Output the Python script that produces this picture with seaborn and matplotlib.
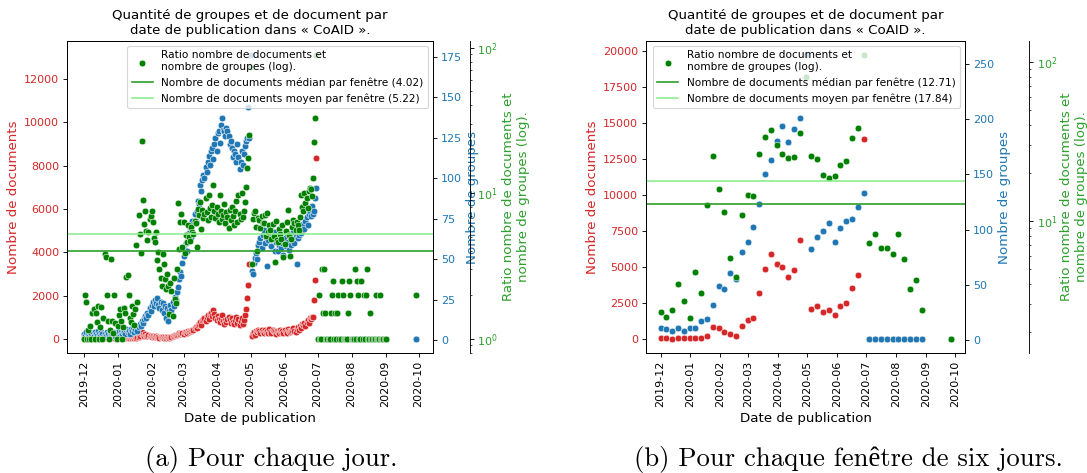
import matplotlib
matplotlib.use("Agg")
import matplotlib.pyplot as plt
import matplotlib.dates as mdates
import pandas as pd
import seaborn as sns

# ---------------- (a) one point per day ----------------
dates_a = pd.date_range("2019-12-01", "2020-09-01").append(pd.DatetimeIndex(["2020-09-29"]))

docs_a = [
    20, 15, 30, 10, 25, 40, 20, 15, 35, 25,
    30, 20, 45, 25, 35, 20, 50, 30, 40, 25,
    35, 55, 30, 20, 45, 60, 35, 25, 50, 40,
    30, 55, 45, 25, 60, 40, 35, 50, 70, 45,
    60, 40, 55, 75, 50, 65, 45, 80, 60, 90,
    70, 110, 250, 330, 180, 150, 220, 140, 120, 160,
    130, 110, 90, 120, 100, 80, 110, 70, 90, 60,
    80, 70, 100, 60, 90, 50, 70, 80, 60, 90,
    70, 110, 130, 160, 200, 180, 230, 260, 210, 250,
    280, 240, 300, 330, 270, 350, 310, 380, 340, 420,
    400, 480, 550, 520, 620, 700, 780, 650, 850, 900,
    950, 820, 1000, 1080, 900, 1150, 1200, 1050, 1310, 1150,
    980, 850, 1050, 900, 780, 950, 1100, 820, 700, 880,
    760, 900, 1000, 850, 720, 950, 800, 680, 880, 1020,
    750, 900, 650, 820, 980, 700, 850, 1100, 1380, 1880,
    2500, 3470, 13100, 150, 250, 320, 200, 380, 300, 420,
    350, 280, 400, 330, 260, 420, 300, 380, 250, 450,
    320, 280, 400, 350, 300, 240, 380, 330, 270, 420,
    300, 360, 250, 400, 330, 280, 450, 350, 300, 380,
    420, 500, 380, 300, 450, 550, 400, 600, 520, 700,
    650, 750, 600, 800, 850, 720, 960, 900, 1030, 1000,
    1800, 2730, 8330,
    1, 2, 1, 1, 3, 3, 3, 3, 1, 1, 1, 1, 3, 2, 5, 1, 3, 1, 3, 2,
    1, 1, 5, 2, 1, 1, 1, 1, 3, 5, 2, 1, 1, 1, 3, 1, 5, 2, 1, 1,
    5, 1, 2, 1, 2, 3, 1, 1, 3, 1, 1, 1, 1, 2, 1, 1, 1, 2, 1, 1,
    1, 1, 1,
    2,
]

groups_a = [
    4, 3, 5, 2, 4, 3, 5, 4, 2, 3,
    5, 4, 3, 6, 4, 3, 5, 4, 2, 4,
    3, 5, 4, 2, 6, 4, 3, 5, 4, 3,
    5, 4, 6, 3, 5, 4, 6, 5, 4, 7,
    5, 6, 4, 7, 6, 8, 5, 7, 9, 6,
    8, 10, 9, 12, 11, 13, 15, 14, 17, 16,
    20, 18, 22, 24, 21, 25, 23, 26, 22, 20,
    24, 19, 23, 17, 21, 14, 20, 12, 18, 22,
    19, 24, 21, 27, 25, 30, 33, 38, 42, 40,
    48, 52, 56, 60, 55, 63, 66, 70, 64, 74,
    72, 78, 74, 80, 86, 84, 96, 92, 99, 102,
    100, 107, 104, 110, 114, 108, 117, 119, 112, 121,
    125, 117, 128, 129, 122, 133, 137, 130, 129, 126,
    131, 129, 126, 121, 123, 119, 113, 117, 115, 110,
    121, 113, 106, 110, 117, 108, 115, 120, 123, 125,
    144, 125, 176, 43, 41, 48, 51, 54, 50, 59,
    61, 63, 57, 65, 68, 60, 64, 46, 62, 66,
    70, 58, 63, 67, 55, 61, 64, 55, 59, 62,
    57, 60, 53, 63, 58, 66, 61, 56, 64, 59,
    62, 67, 60, 64, 47, 63, 65, 68, 66, 70,
    72, 69, 74, 76, 71, 78, 80, 77, 83, 78,
    80, 88, 94,
    1, 1, 1, 1, 1, 1, 1, 1, 1, 1, 1, 1, 1, 1, 1, 1, 1, 1, 1, 1,
    1, 1, 1, 1, 1, 1, 1, 1, 1, 1, 1, 1, 1, 1, 1, 1, 1, 1, 1, 1,
    1, 1, 1, 1, 1, 1, 1, 1, 1, 1, 1, 1, 1, 1, 1, 1, 1, 1, 1, 1,
    1, 1, 1,
    1,
]

ratio_a = [
    1.0, 2.0, 1.8, 1.0, 1.15, 1.0, 1.22, 1.0, 1.5, 1.59,
    1.0, 1.51, 1.3, 1.68, 1.0, 1.2, 1.66, 1.0, 1.4, 3.83,
    3.63, 1.99, 1.32, 1.0, 1.15, 3.54, 1.32, 1.1, 1.99, 1.28,
    1.0, 1.22, 1.45, 1.59, 1.32, 1.0, 1.2, 1.63, 1.5, 2.64,
    2.74, 1.99, 1.4, 1.3, 1.68, 1.47, 1.25, 1.59, 4.38, 1.8,
    7.07, 5.27, 3.9, 22.8, 9.0, 6.1, 7.54, 5.5, 4.8, 5.42,
    6.6, 7.0, 7.54, 6.3, 4.9, 4.62, 5.42, 3.5, 3.93, 3.0,
    2.6, 2.31, 3.83, 3.26, 2.57, 2.19, 2.8, 2.31, 1.47, 2.4,
    2.13, 1.43, 2.6, 1.87, 1.77, 3.0, 8.5, 4.15, 6.36, 7.14,
    4.3, 6.3, 3.9, 5.2, 4.6, 6.0, 5.0, 4.7, 5.9, 5.42,
    5.27, 6.4, 6.2, 4.27, 7.8, 7.07, 8.7, 5.7, 7.66, 6.8,
    7.2, 9.2, 7.4, 6.5, 9.7, 7.9, 6.9, 8.3, 11.4, 7.6,
    6.8, 8.0, 7.2, 6.3, 9.7, 7.5, 6.6, 7.1, 8.4, 6.2,
    7.4, 6.9, 5.8, 7.7, 6.5, 8.1, 7.0, 6.0, 7.6, 8.8,
    6.3, 9.7, 7.2, 6.6, 10.1, 6.9, 7.5, 8.7, 11.0, 15.0,
    17.4, 25.0, 74.0, 3.26, 6.7, 7.3, 7.5, 5.9, 4.04, 6.8,
    6.5, 5.8, 7.0, 6.2, 6.2, 7.1, 5.1, 7.3, 5.4, 6.0,
    5.55, 4.87, 6.1, 5.1, 3.35, 6.4, 4.74, 4.62, 5.7, 5.27,
    4.87, 6.0, 3.63, 4.5, 5.5, 6.35, 7.66, 5.2, 3.73, 4.87,
    5.9, 6.53, 6.2, 5.6, 6.35, 6.0, 5.55, 6.9, 9.7, 8.1,
    7.5, 10.0, 8.5, 9.2, 7.9, 10.3, 10.8, 10.7, 9.5, 12.7,
    22.6, 32.6, 88.6,
    1, 2, 1, 1, 3, 1.5, 3, 1.5, 1, 1, 1, 1, 1.5, 2, 2.5, 1, 1.5, 1, 1.5, 2,
    1, 1, 2.5, 2, 1, 1, 1, 1, 1.5, 2.5, 2, 1, 1, 1, 3, 1, 2.5, 2, 1, 1,
    2.5, 1, 2, 1, 2, 3, 1, 1, 1.5, 1, 1, 1, 1, 2, 1, 1, 1, 2, 1, 1,
    1, 1, 1,
    2,
]
median_a, mean_a = 4.02, 5.22

# ---------------- (b) one point per six-day window ----------------
dates_b = pd.date_range("2019-12-01", periods=46, freq="6D").append(pd.DatetimeIndex(["2020-09-26"]))

docs_b = [30, 25, 22, 44, 25, 27, 53, 60, 230, 790,
          760, 490, 320, 230, 860, 1320, 1430, 3170, 4860, 5860,
          5230, 4980, 4310, 4750, 6880, 19700, 2060, 2250, 1880, 1990,
          1670, 2250, 2500, 3520, 4400, 13870,
          7, 8, 7, 7, 6, 8, 6, 4, 4, 3,
          2]
groups_b = [11, 10, 8, 11, 8, 11, 11, 17, 19, 32,
            49, 46, 61, 55, 80, 89, 102, 123, 150, 163,
            180, 194, 179, 191, 201, 258, 82, 93, 99, 106,
            89, 101, 108, 110, 120, 133,
            1, 1, 1, 1, 1, 1, 1, 1, 1, 1,
            1]
ratio_b = [2.68, 2.48, 2.75, 4.02, 3.12, 2.44, 4.78, 3.52, 12.6, 25.5,
           15.9, 11.4, 5.86, 4.43, 10.8, 14.6, 14.3, 26.4, 33.7, 37.3,
           29.8, 26.3, 24.8, 25.2, 35.7, 80.0, 25.5, 24.4, 19.3, 18.7,
           19.1, 22.4, 23.6, 33.0, 38.5, 110.0,
           7.2, 8.2, 6.74, 6.74, 6.18, 8.2, 5.73, 3.72, 4.24, 2.75,
           1.81]
median_b, mean_b = 12.71, 17.84

title = "Quantité de groupes et de document par\ndate de publication dans « CoAID »."
ratio_label = "Ratio nombre de documents et\nnombre de groupes (log)."

DPI = 80
W, H = 1087, 473
fig = plt.figure(figsize=(W / DPI, H / DPI), dpi=DPI)


def panel(left, right, dates, docs, groups, ratio, med, moy, offset, pad):
    ax = fig.add_axes([left / W, 1 - 353 / H, (right - left) / W, 312 / H])
    ax_g = ax.twinx()
    ax_r = ax.twinx()
    ax_r.spines["right"].set_position(("axes", offset))
    ax_r.set_yscale("log")

    sns.scatterplot(x=dates, y=docs, ax=ax, color="tab:red", s=36)
    sns.scatterplot(x=dates, y=groups, ax=ax_g, color="tab:blue", s=36)
    sns.scatterplot(x=dates, y=ratio, ax=ax_r, color="green", s=36, label=ratio_label)
    ax_r.axhline(med, color="tab:green",
                 label=f"Nombre de documents médian par fenêtre ({med})")
    ax_r.axhline(moy, color="lightgreen",
                 label=f"Nombre de documents moyen par fenêtre ({moy})")

    ax.set_title(title)
    ax.set_xlabel("Date de publication", fontsize=12)
    ax.set_ylabel("Nombre de documents", color="tab:red", fontsize=12)
    ax_g.set_ylabel("Nombre de groupes", color="tab:blue", fontsize=12)
    ax_r.set_ylabel(ratio_label, color="tab:green", fontsize=12, labelpad=pad)
    ax.tick_params(axis="y", labelcolor="tab:red")
    ax_g.tick_params(axis="y", labelcolor="tab:blue")
    ax_r.tick_params(axis="y", which="both", labelcolor="tab:green")

    ax.xaxis.set_major_locator(mdates.MonthLocator())
    ax.xaxis.set_major_formatter(mdates.DateFormatter("%Y-%m"))
    plt.setp(ax.get_xticklabels(), rotation=90)
    ax_r.legend(loc="upper right", fontsize=9.5)
    return ax


panel(67, 433, dates_a, docs_a, groups_a, ratio_a, median_a, mean_a, 1.1, 4)
panel(646, 965, dates_b, docs_b, groups_b, ratio_b, median_b, mean_b, 1.2, 3)

cap_font = ["cmr10", "Liberation Serif"]
fig.text(271 / W, 1 - 466 / H, "(a) Pour chaque jour.", family=cap_font,
         fontsize=24, ha="center", va="baseline")
fig.text(848 / W, 1 - 466 / H, "(b) Pour chaque fenêtre de six jours.", family=cap_font,
         fontsize=24, ha="center", va="baseline")

fig.savefig("out.png", dpi=DPI)
